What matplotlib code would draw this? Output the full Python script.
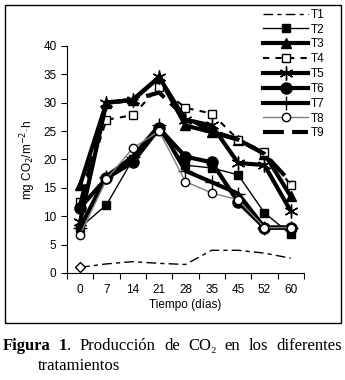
import matplotlib.pyplot as plt
from matplotlib.patches import Rectangle

plt.rcParams["font.family"] = ["Liberation Sans", "DejaVu Sans"]

# Days of sampling (categorical axis)
days = ["0", "7", "14", "21", "28", "35", "45", "52", "60"]

# mg CO2 per treatment
t1 = [1.0, 1.6, 2.0, 1.7, 1.5, 4.0, 4.0, 3.5, 2.6]
t2 = [8.0, 12.0, 20.0, 25.0, 19.0, 18.5, 17.3, 10.6, 6.8]
t3 = [15.5, 30.0, 30.5, 34.5, 26.0, 24.8, 23.5, 21.0, 13.5]
t4 = [12.5, 27.0, 27.8, 32.8, 29.1, 28.1, 23.5, 21.4, 15.5]
t5 = [9.0, 30.0, 30.5, 34.5, 27.0, 26.0, 19.4, 19.0, 10.9]
t6 = [11.5, 16.7, 19.5, 25.5, 20.5, 19.5, 12.5, 8.0, 8.0]
t7 = [8.0, 17.0, 20.5, 26.0, 18.0, 16.0, 14.0, 8.0, 8.0]
t8 = [6.7, 16.5, 22.0, 25.0, 16.1, 14.1, 12.9, 8.0, 8.0]
t9 = [12.0, 30.0, 30.5, 31.8, 27.5, 25.0, 23.5, 21.0, 16.0]

fig = plt.figure(figsize=(3.45, 3.8), dpi=100)
ax = fig.add_axes([0.194, 0.2816, 0.687, 0.5974])

x = [i + 0.5 for i in range(len(days))]

ax.plot(x, t1, color="black", lw=1, ls=(0, (7, 3, 3, 3)), label="T1")
ax.plot(x[:1], t1[:1], color="black", marker="D", ms=5, mfc="white", ls="none")
ax.plot(x, t2, color="black", lw=1, marker="s", ms=6, label="T2")
ax.plot(x, t3, color="black", lw=3, marker="^", ms=7, label="T3")
ax.plot(x, t4, color="black", lw=1.5, ls=(0, (3, 3)), marker="s", ms=6, mfc="white", mew=1, label="T4")
ax.plot(x, t5, color="black", lw=3, marker=(6, 2, 0), ms=10, mew=1, label="T5")
ax.plot(x, t6, color="black", lw=3, marker="o", ms=8, label="T6")
ax.plot(x, t7, color="black", lw=3, marker="+", ms=10, mew=1, label="T7")
ax.plot(x, t8, color="#808080", lw=1, marker="o", ms=6, mfc="white", mec="black", mew=1, label="T8")
ax.plot(x, t9, color="black", lw=3, ls=(0, (5, 2)), label="T9")

ax.set_xlim(0, len(days))
ax.set_ylim(0, 40)
ax.set_yticks(range(0, 41, 5))
ax.set_xticks(range(len(days) + 1))
ax.set_xticklabels([])
ax.set_xticks(x, minor=True)
ax.set_xticklabels(days, minor=True)
ax.tick_params(axis="x", which="minor", length=0, pad=8)
ax.tick_params(which="major", direction="out", length=4, labelsize=8.5)
ax.tick_params(axis="x", which="minor", labelsize=8.5)
for s in ["top", "right"]:
    ax.spines[s].set_visible(False)

ax.set_xlabel("Tiempo (días)", fontsize=8.5, labelpad=2)
ax.set_ylabel("mg CO$_2$/m$^{-2}$·h", fontsize=8.5, labelpad=4)

fig.legend(loc="upper left", bbox_to_anchor=(255 / 345, 1 - 0.5 / 380), frameon=False,
           fontsize=8.5, handlelength=3.8, handletextpad=0.2, labelspacing=0.24,
           borderpad=0.2)

# outer frame around the chart
fig.patches.append(Rectangle((5 / 345, 57 / 380), 336 / 345, 318 / 380,
                             transform=fig.transFigure, fill=False, ec="black", lw=1))

# caption, justified between x=3 and x=342 px
serif = ["Liberation Serif", "DejaVu Serif"]
cap_size = 12
cy = 1 - 346 / 380
# (text, bold, gap before)
tokens = [("Figura", True, False), ("1", True, True), (".", False, False),
          ("Producción", False, True), ("de", False, True), ("CO₂", False, True),
          ("en", False, True), ("los", False, True), ("diferentes", False, True)]
renderer = fig.canvas.get_renderer()
texts = []
widths = []
for t, b, _ in tokens:
    txt = fig.text(0, cy, t, family=serif, fontsize=cap_size,
                   weight="bold" if b else "normal", va="center")
    texts.append(txt)
    widths.append(txt.get_window_extent(renderer).width)
n_gaps = sum(1 for _, _, g in tokens if g)
gap = (342 - 3 - sum(widths)) / n_gaps
pos = 3.0
for txt, w, (_, _, g) in zip(texts, widths, tokens):
    if g:
        pos += gap
    txt.set_x(pos / 345)
    pos += w
fig.text(38 / 345, 1 - 366 / 380, "tratamientos", family=serif, fontsize=cap_size, va="center")

fig.savefig("out.png", dpi=100)
